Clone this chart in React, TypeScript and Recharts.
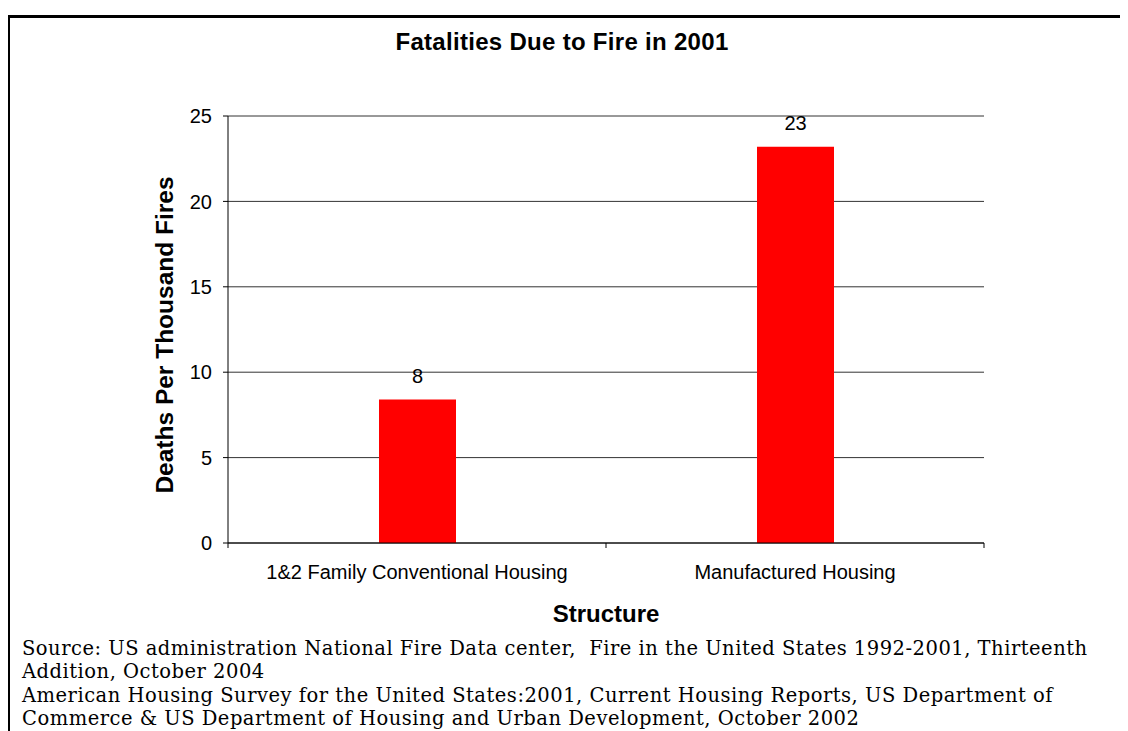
import { BarChart, Bar, XAxis, YAxis, CartesianGrid, LabelList } from 'recharts';

const categories = ['1&2 Family Conventional Housing', 'Manufactured Housing'];
const deaths = [8.4, 23.2];
const yTicks = [0, 5, 10, 15, 20, 25];

const sourceLines = [
  'Source: US administration National Fire Data center,  Fire in the United States 1992-2001, Thirteenth',
  'Addition, October 2004',
  'American Housing Survey for the United States:2001, Current Housing Reports, US Department of',
  'Commerce & US Department of Housing and Urban Development, October 2002',
];

const data = categories.map((name, i) => ({ name, deaths: deaths[i] }));

const TICK_MARGIN = 22;

// category label plus the small tick marks Excel puts on the category boundaries
const CategoryTick = (props: any) => {
  const { x, y, payload, width, visibleTicksCount, index } = props;
  const half = width / visibleTicksCount / 2;
  const axisY = y - TICK_MARGIN;
  return (
    <g>
      <line x1={x - half} x2={x - half} y1={axisY} y2={axisY + 5} stroke="#000" />
      {index === visibleTicksCount - 1 && (
        <line x1={x + half} x2={x + half} y1={axisY} y2={axisY + 5} stroke="#000" />
      )}
      <text x={x} y={y} dy="0.71em" textAnchor="middle" fill="#000" fontSize={20}>
        {payload.value}
      </text>
    </g>
  );
};

const FireChart = () => {
  return (
    <div style={{ position: 'relative', width: 1120, height: 723, fontFamily: 'Arial, "Liberation Sans", sans-serif' }}>
      <div
        style={{
          position: 'absolute',
          left: -1,
          top: 7,
          width: 1121,
          height: 720,
          borderTop: '3px solid #000',
          borderLeft: '3px solid #000',
        }}
      />
      <div
        style={{
          position: 'absolute',
          left: 0,
          top: 20,
          width: 1108,
          textAlign: 'center',
          fontWeight: 'bold',
          fontSize: 24,
          letterSpacing: 0.3,
        }}
      >
        Fatalities Due to Fire in 2001
      </div>
      <div
        style={{
          position: 'absolute',
          left: 157,
          top: 327,
          transform: 'translate(-50%, -50%) rotate(-90deg)',
          whiteSpace: 'nowrap',
          fontWeight: 'bold',
          fontSize: 24.5,
        }}
      >
        Deaths Per Thousand Fires
      </div>
      <div
        style={{
          position: 'absolute',
          left: 598,
          top: 606,
          transform: 'translate(-50%, -50%)',
          fontWeight: 'bold',
          fontSize: 24,
        }}
      >
        Structure
      </div>
      <div style={{ position: 'absolute', left: 0, top: 0 }}>
        <BarChart
          width={1120}
          height={600}
          data={data}
          margin={{ top: 108, right: 144, bottom: 35, left: 160 }}
        >
          <CartesianGrid horizontal vertical={false} stroke="#333" />
          <XAxis
            dataKey="name"
            height={30}
            tickLine={false}
            tickSize={0}
            tickMargin={TICK_MARGIN}
            axisLine={{ stroke: '#000' }}
            tick={<CategoryTick />}
            interval={0}
          />
          <YAxis
            width={60}
            domain={[0, 25]}
            ticks={yTicks}
            tickSize={5}
            tickMargin={11}
            axisLine={{ stroke: '#000' }}
            tickLine={{ stroke: '#000' }}
            tick={{ fill: '#000', fontSize: 20 }}
          />
          <Bar dataKey="deaths" fill="#FF0000" barSize={77} isAnimationActive={false}>
            <LabelList
              dataKey="deaths"
              position="top"
              offset={17}
              formatter={(v: number) => Math.round(v)}
              style={{ fill: '#000', fontSize: 20 }}
            />
          </Bar>
        </BarChart>
      </div>
      <div
        style={{
          position: 'absolute',
          left: 14,
          top: 629,
          fontFamily: '"DejaVu Serif", serif',
          fontSize: 19.5,
          letterSpacing: 0.5,
          lineHeight: '23.3px',
          whiteSpace: 'pre',
          color: '#000',
        }}
      >
        {sourceLines.map((line, i) => (
          <div key={i}>{line}</div>
        ))}
      </div>
    </div>
  );
};

export default function App() {
  return <FireChart />;
}
